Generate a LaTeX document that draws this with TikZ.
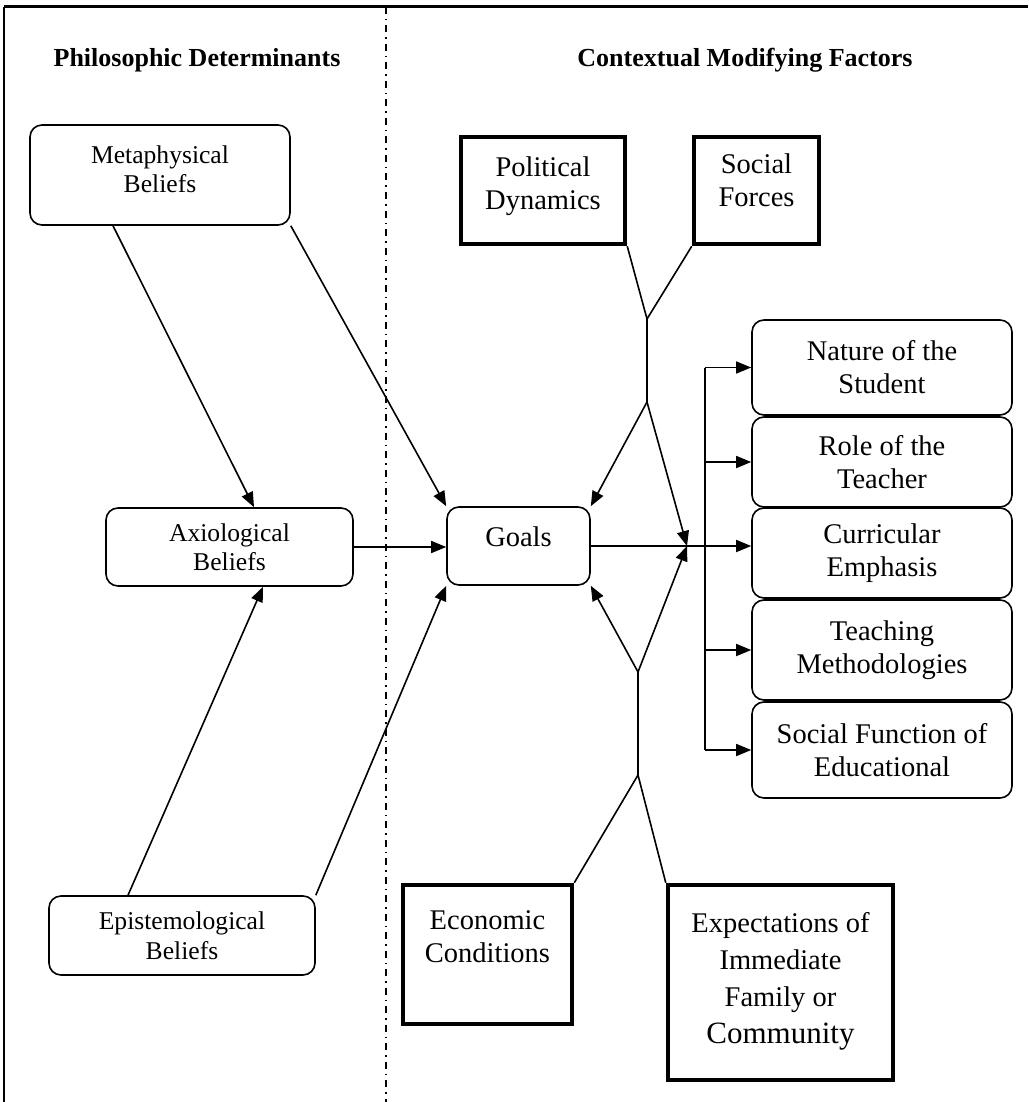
\documentclass[tikz,border=0pt]{standalone}
\usepackage{fontspec}
\setmainfont{Liberation Serif}
\usetikzlibrary{arrows.meta}
\newcommand{\lowpad}[1]{\rule[-#1pt]{0pt}{#1pt}}

\begin{document}
\begin{tikzpicture}[x=1pt,y=-1pt,
        rbox/.style={draw, rounded corners=12pt, line width=1.6pt, align=center, inner sep=0pt},
        tbox/.style={draw, line width=4.5pt, align=center, inner sep=0pt},
        lfont/.style={font=\fontsize{25.6}{29.5}\selectfont},
        rfont/.style={font=\fontsize{28.5}{33}\selectfont},
        headline/.style={font=\fontsize{26}{30}\selectfont\bfseries},
        conn/.style={line width=1.6pt},
        arr/.style={conn, -{Triangle[length=15pt,width=12pt]}}]
        % 外框与分隔线
        \useasboundingbox (0,0) rectangle (1028,1102);
        \draw[line width=3pt] (4,7) -- (1028,7);
        \draw[line width=1.5pt] (4,7) -- (4,1102);
        \draw[line width=1.3pt, dash pattern=on 7pt off 5pt on 1.5pt off 5pt] (386,7) -- (386,1102);

        % 两栏标题
        \node[headline] (tphil) at (197,60) {Philosophic Determinants};
        \node[headline] (tctx) at (745,60) {Contextual Modifying Factors};

        % 左栏: 三种信念
        \node[rbox, lfont, minimum width=260pt, minimum height=100pt] (meta) at (160,175) {Metaphysical\\Beliefs\lowpad{12}};
        \node[rbox, lfont, minimum width=247pt, minimum height=78pt] (axio) at (229.5,547) {Axiological\\Beliefs};
        \node[rbox, lfont, minimum width=266pt, minimum height=79pt] (epis) at (182,935.5) {Epistemological\\Beliefs};

        % 中间的目标
        \node[rbox, rfont, minimum width=143pt, minimum height=78pt] (goals) at (518.5,546) {Goals\lowpad{18}};

        % 上方与下方的粗框因素
        \node[tbox, rfont, minimum width=164pt, minimum height=107pt] (pol) at (543,190.5) {Political\\Dynamics\lowpad{15}};
        \node[tbox, rfont, minimum width=125pt, minimum height=107pt] (soc) at (756.5,190.5) {Social\\Forces\lowpad{20}};
        \node[tbox, rfont, minimum width=169pt, minimum height=139pt] (econ) at (487.5,954.5) {Economic\\Conditions\lowpad{35}};
        \node[tbox, font=\fontsize{28.5}{37}\selectfont, minimum width=225pt, minimum height=195pt] (expe) at (780.5,982.5)
            {Expectations of\\Immediate\\Family or\\{\fontsize{31}{37}\selectfont Community}\lowpad{10}};

        % 右栏: 五个结果
        \node[rbox, rfont, minimum width=260pt, minimum height=95pt] (nat) at (882,367.5) {Nature of the\\Student};
        \node[rbox, rfont, minimum width=260pt, minimum height=90pt] (role) at (882,462) {Role of the\\Teacher};
        \node[rbox, rfont, minimum width=260pt, minimum height=90pt] (cur) at (882,553) {Curricular\\Emphasis};
        \node[rbox, rfont, minimum width=260pt, minimum height=100pt] (teach) at (882,650) {Teaching\\Methodologies};
        \node[rbox, rfont, minimum width=260pt, minimum height=96pt] (sfe) at (882,750) {Social Function of\\Educational};

        % 左栏连线
        \draw[arr] ([xshift=-47pt]meta.south) -- ([xshift=24.5pt]axio.north);
        \draw[arr] (meta.south east) -- (goals.north west);
        \draw[arr] (axio.east) -- (axio.east -| goals.west);
        \draw[arr] ([xshift=-54pt]epis.north) -- ([xshift=33.5pt]axio.south);
        \draw[arr] (epis.north east) -- (goals.south west);

        % 上方汇合点
        \coordinate (jtop) at (647,319);
        \coordinate (jmid) at (647,402);
        \coordinate (hub) at (687,546);
        \draw[conn] (pol.south east) -- (jtop) -- (soc.south west);
        \draw[conn] (jtop) -- (jmid);
        \draw[arr] (jmid) -- (goals.north east);
        \draw[arr] (jmid) -- (hub);

        % 下方汇合点
        \coordinate (jbot) at (638,775);
        \coordinate (jlow) at (638,672);
        \draw[conn] (econ.north east) -- (jbot) -- (expe.north west);
        \draw[conn] (jbot) -- (jlow);
        \draw[arr] (jlow) -- (goals.south east);
        \draw[arr] (jlow) -- (hub);

        % 右侧分支
        \coordinate (bar) at (705,0);
        \draw[arr] (goals.east) -- (goals.east -| cur.west);
        \draw[conn] (nat.west -| bar) -- (sfe.west -| bar);
        \draw[arr] (nat.west -| bar) -- (nat.west);
        \draw[arr] (role.west -| bar) -- (role.west);
        \draw[arr] (teach.west -| bar) -- (teach.west);
        \draw[arr] (sfe.west -| bar) -- (sfe.west);
    \end{tikzpicture}
\end{document}
